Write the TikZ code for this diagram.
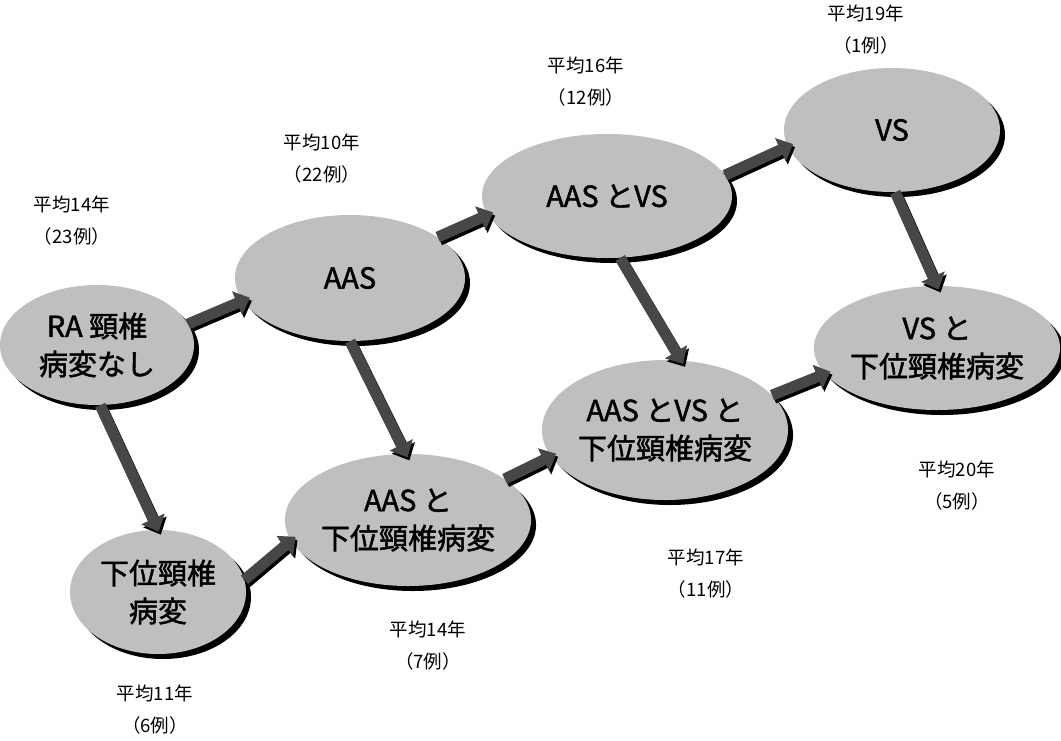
\documentclass[tikz,border=0pt]{standalone}
\usepackage{fontspec}
\setmainfont{Noto Sans CJK JP}[AutoFakeBold=1.6]
\usetikzlibrary{shapes.geometric,arrows.meta,shadows}
\tikzset{
  blob/.style={ellipse, fill=black!25, inner sep=0pt, align=center,
    font=\fontsize{29}{38}\selectfont\bfseries,
    general shadow={fill=black, shadow xshift=5pt, shadow yshift=-5pt}},
  lbl/.style={align=center, font=\fontsize{18.5}{32}\selectfont, inner sep=0pt},
  flow/.style={line width=11pt, draw=black!72,
    -{Triangle[width=25pt,length=14pt]},
    preaction={draw=black, line width=11pt, -{Triangle[width=25pt,length=14pt]},
      transform canvas={shift={(2pt,-3pt)}}}}
}
\begin{document}
\begin{tikzpicture}[x=1pt,y=-1pt]
\useasboundingbox (0,0) rectangle (1061,740);
% ellipses
\node[blob, minimum width=194pt, minimum height=120pt] (RA) at (97,345) {RA 頸椎\\病変なし};
\node[blob, minimum width=230pt, minimum height=126pt] (AAS) at (350,278) {AAS};
\node[blob, minimum width=250pt, minimum height=124pt] (AVS) at (607,196) {AAS とVS};
\node[blob, minimum width=216pt, minimum height=124pt] (VS) at (892,130) {VS};
\node[blob, minimum width=216pt, minimum height=124pt] (VSL) at (937,348) {VS と\\下位頸椎病変};
\node[blob, minimum width=230pt, minimum height=140pt] (AVSL) at (665,430) {AAS とVS と\\下位頸椎病変};
\node[blob, minimum width=244pt, minimum height=132pt] (AL) at (408,520) {AAS と\\下位頸椎病変};
\node[blob, minimum width=176pt, minimum height=124pt] (L) at (158,592) {下位頸椎\\病変};
% arrows
\draw[flow, shorten >=-8pt] (RA.13) -- (AAS.192.6);
\draw[flow, shorten >=-2pt] (RA.273) -- (L.90);
\draw[flow, shorten >=-6pt] (L.8) -- (AL.190);
\draw[flow, shorten >=-4pt] (AAS.270) -- (AL.92);
\draw[flow, shorten >=-6pt] (AAS.25) -- (AVS.189.5);
\draw[flow, shorten >=-6pt] (AL.23) -- (AVSL.193);
\draw[flow, shorten >=-4pt] (AVS.282) -- (AVSL.77.6);
\draw[flow, shorten >=-6pt] (AVS.10) -- (VS.189.3);
\draw[flow, shorten >=-4pt] (VS.273) -- (VSL.90);
\draw[flow, shorten >=-6pt] (AVSL.18) -- (VSL.193);
% labels
\node[lbl] (t1) at (72,221) {平均14年\\（23例）};
\node[lbl] (t2) at (322,159) {平均10年\\（22例）};
\node[lbl] (t3) at (586,82) {平均16年\\（12例）};
\node[lbl] (t4) at (866,30) {平均19年\\（1例）};
\node[lbl] (t5) at (957,486) {平均20年\\（5例）};
\node[lbl] (t6) at (706,574) {平均17年\\（11例）};
\node[lbl] (t7) at (428,646) {平均14年\\（7例）};
\node[lbl] (t8) at (155,710) {平均11年\\（6例）};
\end{tikzpicture}
\end{document}
